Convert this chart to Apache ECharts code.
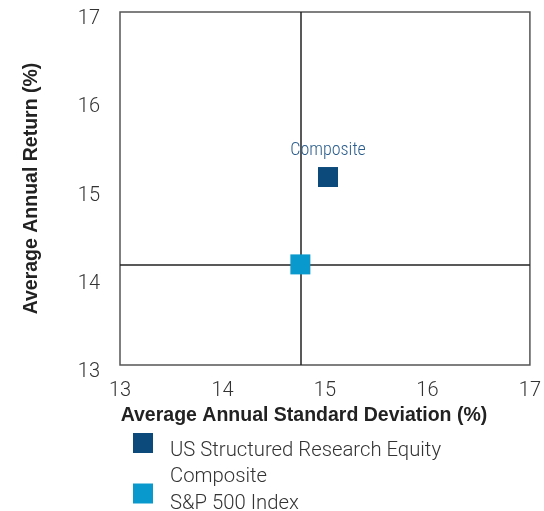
<!DOCTYPE html>
<html>
<head>
<meta charset="utf-8">
<script src="https://cdn.jsdelivr.net/npm/echarts@6/dist/echarts.min.js"></script>
<style>html,body{margin:0;padding:0;background:#fff}#c{width:544px;height:511px}</style>
</head>
<body>
<div id="c"></div>
<script>
var seriesNames = ['US Structured Research Equity Composite', 'S&P 500 Index'];
var legendLines = ['US Structured Research Equity', 'Composite'];
var compositePoint = [15.03, 15.13];
var indexPoint = [14.76, 14.14];
var xTicks = [13, 14, 15, 16, 17];
var yTicks = [13, 14, 15, 16, 17];
var pointLabel = 'Composite';

var chart = echarts.init(document.getElementById('c'));
var font = 'Roboto';
var lineStyleText = { color: '#333', fontFamily: font, fontWeight: 300, fontSize: 20.3, lineHeight: 26 };
chart.setOption({
  animation: false,
  grid: { left: 120, right: 13, top: 12, bottom: 146, show: true, borderColor: '#555', borderWidth: 1.5, backgroundColor: 'transparent' },
  xAxis: {
    type: 'value', min: xTicks[0], max: xTicks[xTicks.length - 1], interval: 1,
    axisLine: { show: false }, axisTick: { show: false }, splitLine: { show: false },
    axisLabel: { color: '#333', fontFamily: font, fontWeight: 300, fontSize: 20, margin: 16 },
    name: 'Average Annual Standard Deviation (%)', nameLocation: 'middle', nameGap: 37,
    nameTextStyle: { color: '#222', fontFamily: 'Liberation Sans', fontWeight: 'bold', fontSize: 19.5, padding: [0, 42, 0, 0] }
  },
  yAxis: {
    type: 'value', min: yTicks[0], max: yTicks[yTicks.length - 1], interval: 1,
    axisLine: { show: false }, axisTick: { show: false }, splitLine: { show: false },
    axisLabel: { color: '#333', fontFamily: font, fontWeight: 300, fontSize: 20, margin: 20, verticalAlign: 'top', lineHeight: 14 },
    name: 'Average Annual Return (%)', nameLocation: 'middle', nameGap: 78, nameRotate: 90,
    nameTextStyle: { color: '#222', fontFamily: 'Liberation Sans', fontWeight: 'bold', fontSize: 19.5 }
  },
  legend: [
    {
      orient: 'vertical', left: 128, top: 407, itemWidth: 20, itemHeight: 20,
      icon: 'rect', selectedMode: false,
      formatter: function () { return '{s| }\n{a|' + legendLines[0] + '}\n{a|' + legendLines[1] + '}'; },
      textStyle: { padding: [0, 0, 0, 12], rich: { s: { lineHeight: 42, fontSize: 10 }, a: lineStyleText } },
      data: [seriesNames[0]]
    },
    {
      orient: 'vertical', left: 128, top: 470.5, itemWidth: 20, itemHeight: 20,
      icon: 'rect', selectedMode: false,
      formatter: function (n) { return '{s| }\n{a|' + n + '}'; },
      textStyle: { padding: [0, 0, 0, 12], rich: { s: { lineHeight: 20, fontSize: 10 }, a: lineStyleText } },
      data: [seriesNames[1]]
    }
  ],
  series: [
    {
      name: seriesNames[0], type: 'scatter', symbol: 'rect', symbolSize: 20,
      itemStyle: { color: '#0b4a7b', opacity: 1 },
      label: { show: true, position: 'top', distance: 8, formatter: pointLabel, color: '#2a5d8c',
        fontFamily: '"Liberation Sans Narrow", "Roboto Condensed", Roboto', fontWeight: 300, fontSize: 18 },
      data: [compositePoint], z: 5
    },
    {
      name: seriesNames[1], type: 'scatter', symbol: 'rect', symbolSize: 20,
      itemStyle: { color: '#0a99cc', opacity: 1 },
      data: [indexPoint], z: 5,
      markLine: {
        silent: true, symbol: 'none', label: { show: false },
        lineStyle: { color: '#222', width: 1.5, type: 'solid' },
        data: [{ xAxis: indexPoint[0] }, { yAxis: indexPoint[1] }]
      }
    }
  ]
});
</script>
</body>
</html>
